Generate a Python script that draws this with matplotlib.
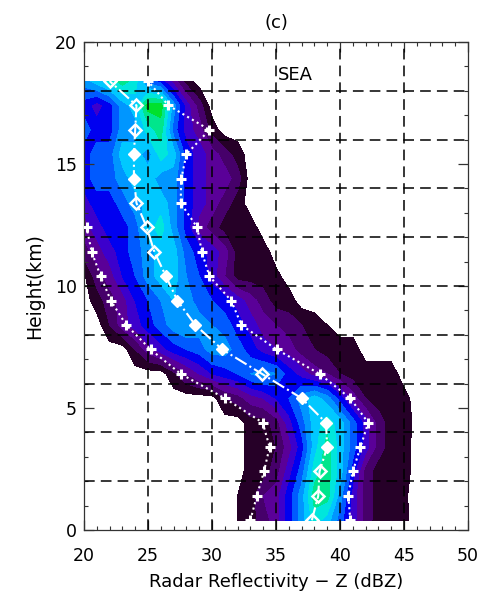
import numpy as np
import matplotlib
matplotlib.use("Agg")
import matplotlib.pyplot as plt
from matplotlib.colors import ListedColormap, BoundaryNorm
from matplotlib.ticker import MultipleLocator

# reflectivity bins (dBZ) and height levels (km)
dbz = [20, 21, 22, 23, 24, 25, 26, 27, 28, 29, 30, 31, 32, 33,
       34, 35, 36, 37, 38, 39, 40, 41, 42, 43, 44, 45, 46]
hgt = [0.4, 1.4, 2.4, 3.4, 4.4, 5.4, 6.4, 7.4, 8.4, 9.4,
       10.4, 11.4, 12.4, 13.4, 14.4, 15.4, 16.4, 17.4, 18.4]

# frequency class (contour level index) read per height row
freq = [
    [0, 0, 0, 0, 0, 0, 0, 0, 0, 0, 0, 0, .5, 1, 2, 3, 5, 7, 9, 8, 6, 4, 2, 1, 1, .8, 0],
    [0, 0, 0, 0, 0, 0, 0, 0, 0, 0, 0, 0, .5, 1, 2.5, 3, 5, 7, 10, 10, 7, 4, 2, 1, 1, .7, 0],
    [0, 0, 0, 0, 0, 0, 0, 0, 0, 0, 0, 0, 0, 1, 1, 2, 4, 6, 9, 10, 8, 5, 2, 1, 1, 1, 0],
    [0, 0, 0, 0, 0, 0, 0, 0, 0, 0, 0, 0, 0, 1, 1, 1.5, 3, 5, 8, 10, 8, 6, 4, 2, 1, 1, 0],
    [0, 0, 0, 0, 0, 0, 0, 0, 0, 0, 0, 0, 0, 1, 1, 2, 4, 6, 8, 9, 8, 6, 4, 2, 1, 1, .2],
    [0, 0, 0, 0, 0, 0, 0, 0, 0, 0, 0, 1.5, 2, 3, 3.5, 4.5, 5.5, 7, 8, 7, 5, 3, 1.5, 1, 1, .9, 0],
    [0, 0, 0, 0, 0, 0, 0, 1.2, 2.5, 3.5, 4.5, 5, 5.5, 6.5, 7, 6.5, 5, 4, 3, 2.5, 1.5, 1, 1, 1, 1, 0, 0],
    [0, 0, 0, 0, 1.5, 3, 4, 5, 5.5, 6, 7, 7, 6, 5, 4, 3.5, 3, 2, 1.5, 1, 1, 1, 0, 0, 0, 0, 0],
    [0, 0, 1.5, 3, 4, 5, 6, 7, 7.5, 7, 6.5, 6, 5, 4, 3, 2.5, 2, 1.5, 1, .5, 0, 0, 0, 0, 0, 0, 0],
    [0, 1, 2, 3, 4.5, 5.5, 6.5, 7.5, 7, 6, 5.5, 5, 4, 3, 2, 1, 1, 0, 0, 0, 0, 0, 0, 0, 0, 0, 0],
    [.3, 2, 3, 4.5, 5.5, 7, 8, 8, 6.5, 5.5, 4, 2.5, 1, 1, 1, .8, 0, 0, 0, 0, 0, 0, 0, 0, 0, 0, 0],
    [2, 3, 4, 5, 6, 7, 8, 8, 6, 5, 4, 3, 1, 1, 1, 0, 0, 0, 0, 0, 0, 0, 0, 0, 0, 0, 0],
    [3, 4, 5, 5, 6, 8, 9, 7, 5, 3, 2, 1, 1.5, 1, 0, 0, 0, 0, 0, 0, 0, 0, 0, 0, 0, 0, 0],
    [4, 5, 5, 6, 7, 8, 8, 7, 5, 4, 3, 2, 1, 0, 0, 0, 0, 0, 0, 0, 0, 0, 0, 0, 0, 0, 0],
    [5, 6, 6, 7, 8, 8, 7, 7, 5, 4, 3, 3, 2, 0, 0, 0, 0, 0, 0, 0, 0, 0, 0, 0, 0, 0, 0],
    [5, 6, 6, 8, 8, 7, 9, 8, 5, 4, 3, 2, 1, 0, 0, 0, 0, 0, 0, 0, 0, 0, 0, 0, 0, 0, 0],
    [6, 5, 5, 7, 7, 9, 10, 6, 4, 3, 1, 0, 0, 0, 0, 0, 0, 0, 0, 0, 0, 0, 0, 0, 0, 0, 0],
    [5, 4, 5, 7, 8, 11, 11, 7, 4, 2, 0, 0, 0, 0, 0, 0, 0, 0, 0, 0, 0, 0, 0, 0, 0, 0, 0],
    [7, 8, 9, 10, 9, 6, 5, 3, 1, 0, 0, 0, 0, 0, 0, 0, 0, 0, 0, 0, 0, 0, 0, 0, 0, 0, 0],
]

# median profile (diamonds) and percentile profiles (+)
median = [37.8, 38.3, 38.4, 39.0, 38.9, 37.0, 33.9, 30.8, 28.7, 27.3,
          26.4, 25.5, 24.9, 24.1, 23.9, 23.9, 24.0, 24.1, 22.0]
solid = [False, False, False, True, True, True, False, True, True, True,
         True, False, False, False, True, True, False, False, False]
upper = [40.8, 40.65, 41.0, 41.6, 42.2, 40.8, 38.4, 35.05, 32.3, 31.5,
         29.8, 29.2, 28.85, 27.55, 27.6, 28.0, 29.8, 26.6, 25.0]
lower_hgt = hgt[:13]
lower = [33.0, 33.5, 34.06, 34.5, 33.96, 31.0, 27.55, 25.2, 23.3, 22.1,
         21.3, 20.6, 20.2]

colors = ["#260028", "#46006a", "#5a0098", "#3c00cc", "#0000f0", "#005aff",
          "#0096ff", "#00c8ff", "#00e6dc", "#00e68c", "#00e12d"]
levels = np.arange(0.5, 12.0, 1.0)
cmap = ListedColormap(colors)
norm = BoundaryNorm(levels, cmap.N)

fig = plt.figure(figsize=(4.87, 6.01), dpi=100)
ax = fig.add_axes([0.1725, 0.1181, 0.7885, 0.812])

ax.contourf(dbz, hgt, np.array(freq), levels=levels, cmap=cmap, norm=norm)

for gx in [25, 30, 35, 40, 45]:
    ax.axvline(gx, color="black", lw=1.1, ls=(0, (7, 4)), zorder=2)
for gy in [2, 4, 6, 8, 10, 12, 14, 16, 18]:
    ax.axhline(gy, color="black", lw=1.1, ls=(0, (7, 4)), zorder=2)

ax.plot(upper, hgt, ls=":", color="white", lw=1.5, marker="+", ms=7, mew=2.2, zorder=3)
ax.plot(lower, lower_hgt, ls=":", color="white", lw=1.5, marker="+", ms=7, mew=2.2, zorder=3)
ax.plot(median, hgt, ls="-.", color="white", lw=1.5, zorder=3)
mh = [h for h, s in zip(hgt, solid) if s]
mx = [x for x, s in zip(median, solid) if s]
ax.plot(mx, mh, ls="none", marker="D", ms=6.5, mfc="white", mec="white", zorder=4)
oh = [h for h, s in zip(hgt, solid) if not s]
ox = [x for x, s in zip(median, solid) if not s]
ax.plot(ox, oh, ls="none", marker="D", ms=6, mfc="none", mec="white", mew=1.8, zorder=4)

ax.set_xlim(20, 50)
ax.set_ylim(0, 20)
ax.xaxis.set_major_locator(MultipleLocator(5))
ax.xaxis.set_minor_locator(MultipleLocator(1))
ax.yaxis.set_major_locator(MultipleLocator(5))
ax.yaxis.set_minor_locator(MultipleLocator(1))
ax.tick_params(which="both", direction="in", top=True, right=True, color="#333333")
ax.tick_params(which="major", length=7, width=0.9)
ax.tick_params(which="minor", length=3, width=0.8)
ax.tick_params(axis="x", which="major", pad=12, labelsize=12.5)
ax.tick_params(axis="y", which="major", pad=5, labelsize=12.5)
for sp in ax.spines.values():
    sp.set_color("#333333")
    sp.set_linewidth(0.9)

ax.set_xlabel("Radar Reflectivity \u2212 Z (dBZ)", fontsize=13, labelpad=6)
ax.set_ylabel("Height(km)", fontsize=13.5, labelpad=8)
ax.set_title("(c)", fontsize=13, pad=10)
ax.text(36.5, 18.65, "SEA", fontsize=13, ha="center", va="center")

fig.savefig("out.png", dpi=100)
